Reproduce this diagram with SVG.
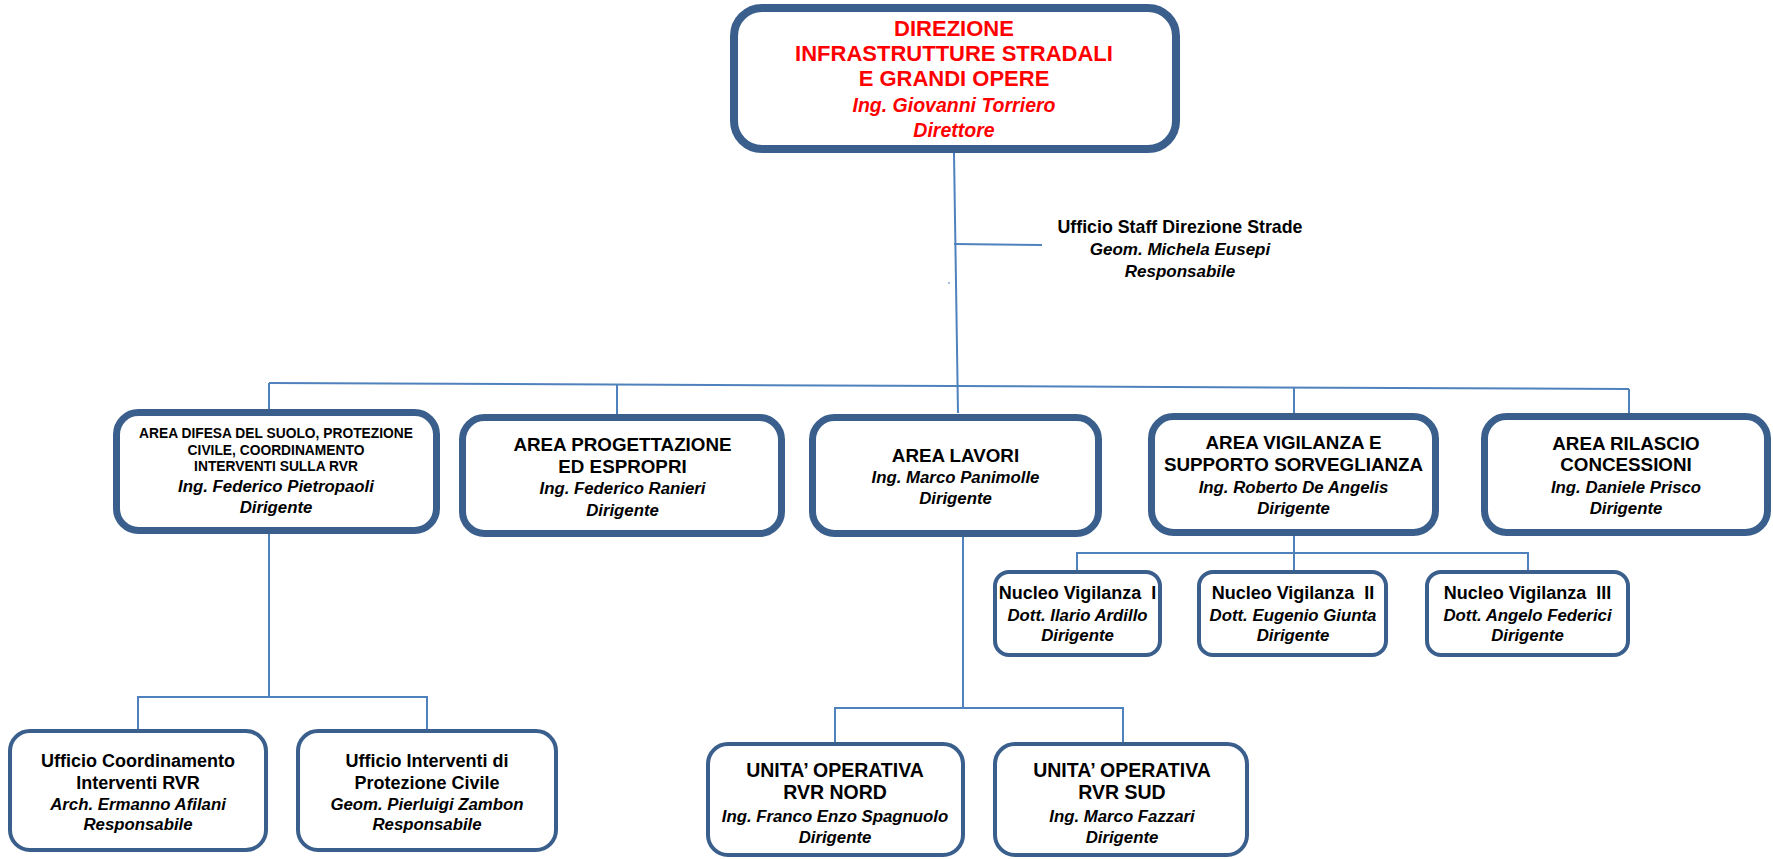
<svg xmlns="http://www.w3.org/2000/svg" width="1773" height="859" viewBox="0 0 1773 859">
<style>
  .box { fill: #ffffff; stroke: #3A5F8D; }
  .big { stroke-width: 8; }
  .mid { stroke-width: 7; }
  .small { stroke-width: 4; }
  .conn { stroke: #4F81BD; stroke-width: 2; fill: none; }
  text { font-family: "Liberation Sans", Arial, sans-serif; text-anchor: middle; fill: #000000; }
  .b { font-weight: bold; }
  .i { font-weight: bold; font-style: italic; font-size: 16.8px; }
  .red { fill: #FF0000; }
  .h22 { font-size: 22px; }
  .h18 { font-size: 18.8px; }
  .h19 { font-size: 19.5px; }
  .h17 { font-size: 18px; }
  .h13 { font-size: 13.8px; }
  .pre { white-space: pre; }
</style>
<rect width="1773" height="859" fill="#ffffff"/>
<g id="connectors">
  <line class="conn" x1="954" y1="153" x2="958" y2="413"/>
  <line class="conn" x1="954" y1="244" x2="1042" y2="245"/>
  <rect x="948.5" y="282" width="1" height="2" fill="#4F81BD"/>
  <line class="conn" x1="269" y1="383" x2="1629" y2="389"/>
  <line class="conn" x1="269" y1="383" x2="269" y2="410"/>
  <line class="conn" x1="617" y1="385" x2="617" y2="414"/>
  <line class="conn" x1="1294" y1="388" x2="1294" y2="413"/>
  <line class="conn" x1="1629" y1="389" x2="1629" y2="414"/>
  <line class="conn" x1="269" y1="534" x2="269" y2="697"/>
  <polyline class="conn" points="138,731 138,697 427,697 427,731"/>
  <line class="conn" x1="963" y1="537" x2="963" y2="708"/>
  <polyline class="conn" points="835,743 835,708 1123,708 1123,743"/>
  <line class="conn" x1="1294" y1="536" x2="1294" y2="571"/>
  <polyline class="conn" points="1077,571 1077,553 1528,553 1528,571"/>
</g>
<g id="direzione">
  <rect class="box big" x="734" y="8" width="442" height="141" rx="28"/>
  <text class="b h22 red" x="954" y="36">DIREZIONE</text>
  <text class="b h22 red" x="954" y="61">INFRASTRUTTURE STRADALI</text>
  <text class="b h22 red" x="954" y="86">E GRANDI OPERE</text>
  <text class="i red" x="954" y="112" style="font-size:19.5px">Ing. Giovanni Torriero</text>
  <text class="i red" x="954" y="137" style="font-size:19.5px">Direttore</text>
</g>
<g id="staff">
  <text class="b" x="1180" y="233" style="font-size:17.8px">Ufficio Staff Direzione Strade</text>
  <text class="i" x="1180" y="255" style="font-size:17px">Geom. Michela Eusepi</text>
  <text class="i" x="1180" y="277" style="font-size:17px">Responsabile</text>
</g>
<g id="area-difesa">
  <rect class="box mid" x="116.5" y="412.5" width="320" height="118" rx="22"/>
  <text class="b h13" x="276" y="438">AREA DIFESA DEL SUOLO, PROTEZIONE</text>
  <text class="b h13" x="276" y="454.5">CIVILE, COORDINAMENTO</text>
  <text class="b h13" x="276" y="471">INTERVENTI SULLA RVR</text>
  <text class="i" x="276" y="492">Ing. Federico Pietropaoli</text>
  <text class="i" x="276" y="513">Dirigente</text>
</g>
<g id="area-progettazione">
  <rect class="box mid" x="462.5" y="417.5" width="319" height="116" rx="22"/>
  <text class="b h18" x="622.5" y="451">AREA PROGETTAZIONE</text>
  <text class="b h18" x="622.5" y="473">ED ESPROPRI</text>
  <text class="i" x="622.5" y="494">Ing. Federico Ranieri</text>
  <text class="i" x="622.5" y="516">Dirigente</text>
</g>
<g id="area-lavori">
  <rect class="box mid" x="812.5" y="417.5" width="286" height="116" rx="22"/>
  <text class="b h18" x="955.5" y="462">AREA LAVORI</text>
  <text class="i" x="955.5" y="483">Ing. Marco Panimolle</text>
  <text class="i" x="955.5" y="504">Dirigente</text>
</g>
<g id="area-vigilanza">
  <rect class="box mid" x="1151.5" y="416.5" width="284" height="116" rx="22"/>
  <text class="b h18" x="1293.5" y="449">AREA VIGILANZA E</text>
  <text class="b h18" x="1293.5" y="471">SUPPORTO SORVEGLIANZA</text>
  <text class="i" x="1293.5" y="493">Ing. Roberto De Angelis</text>
  <text class="i" x="1293.5" y="514">Dirigente</text>
</g>
<g id="area-rilascio">
  <rect class="box mid" x="1484.5" y="416.5" width="283" height="116" rx="22"/>
  <text class="b h18" x="1626" y="450">AREA RILASCIO</text>
  <text class="b h18" x="1626" y="471">CONCESSIONI</text>
  <text class="i" x="1626" y="493">Ing. Daniele Prisco</text>
  <text class="i" x="1626" y="514">Dirigente</text>
</g>
<g id="nucleo-1">
  <rect class="box small" x="995" y="572" width="165" height="83" rx="14"/>
  <text class="b h17 pre" x="1077.5" y="599">Nucleo Vigilanza  I</text>
  <text class="i" x="1077.5" y="621">Dott. Ilario Ardillo</text>
  <text class="i" x="1077.5" y="641">Dirigente</text>
</g>
<g id="nucleo-2">
  <rect class="box small" x="1199" y="572" width="187" height="83" rx="14"/>
  <text class="b h17 pre" x="1293" y="599">Nucleo Vigilanza  II</text>
  <text class="i" x="1293" y="621">Dott. Eugenio Giunta</text>
  <text class="i" x="1293" y="641">Dirigente</text>
</g>
<g id="nucleo-3">
  <rect class="box small" x="1427" y="572" width="201" height="83" rx="14"/>
  <text class="b h17 pre" x="1527.5" y="599">Nucleo Vigilanza  III</text>
  <text class="i" x="1527.5" y="621">Dott. Angelo Federici</text>
  <text class="i" x="1527.5" y="641">Dirigente</text>
</g>
<g id="ufficio-coordinamento">
  <rect class="box small" x="10" y="731" width="256" height="119" rx="20"/>
  <text class="b h17" x="138" y="767">Ufficio Coordinamento</text>
  <text class="b h17" x="138" y="789">Interventi RVR</text>
  <text class="i" x="138" y="810">Arch. Ermanno Afilani</text>
  <text class="i" x="138" y="830">Responsabile</text>
</g>
<g id="ufficio-protezione">
  <rect class="box small" x="298" y="731" width="258" height="119" rx="20"/>
  <text class="b h17" x="427" y="767">Ufficio Interventi di</text>
  <text class="b h17" x="427" y="789">Protezione Civile</text>
  <text class="i" x="427" y="810">Geom. Pierluigi Zambon</text>
  <text class="i" x="427" y="830">Responsabile</text>
</g>
<g id="uo-nord">
  <rect class="box small" x="708" y="744" width="255" height="111" rx="20"/>
  <text class="b h19" x="835" y="777">UNITA’ OPERATIVA</text>
  <text class="b h19" x="835" y="799">RVR NORD</text>
  <text class="i" x="835" y="822">Ing. Franco Enzo Spagnuolo</text>
  <text class="i" x="835" y="843">Dirigente</text>
</g>
<g id="uo-sud">
  <rect class="box small" x="995" y="744" width="252" height="111" rx="20"/>
  <text class="b h19" x="1122" y="777">UNITA’ OPERATIVA</text>
  <text class="b h19" x="1122" y="799">RVR SUD</text>
  <text class="i" x="1122" y="822">Ing. Marco Fazzari</text>
  <text class="i" x="1122" y="843">Dirigente</text>
</g>
</svg>
